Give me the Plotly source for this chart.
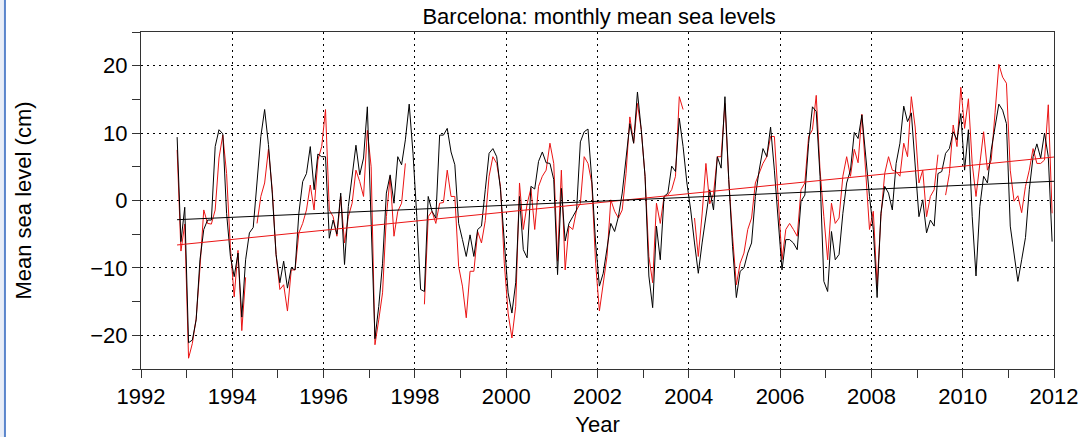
import plotly.graph_objects as go

# Monthly mean sea level at Barcelona (cm), October 1992 - December 2011
start_year = 1992
start_month = 10  # first month in the record

black_levels = [
    9.4, -6.1, -1.0,                                                        # 1992 (Oct-Dec)
    -21.1, -20.7, -17.7, -8.8, -4.3, -2.9, -2.9, 8.0, 10.5, 9.9, -1.9, -8.3,    # 1993
    -11.3, -7.8, -17.3, -8.8, -4.8, -4.0, 3.1, 9.5, 13.5, 8.3, 1.1, -8.0,       # 1994
    -12.2, -9.0, -13.0, -10.0, -10.3, -1.9, 2.8, 4.0, 8.0, 1.6, 6.9, 6.5,       # 1995
    6.5, -5.6, -2.9, -5.0, 1.1, -9.5, -0.9, 4.0, 8.2, 3.8, 6.3, 13.9,           # 1996
    -3.0, -20.5, -15.7, -9.3, 1.1, 3.8, -0.4, 6.5, 5.3, 9.0, 14.3, 7.0,         # 1997
    -2.4, -13.2, -13.5, 0.6, -1.6, -2.6, 9.7, 9.7, 10.7, 7.2, 5.3, -3.4,        # 1998
    -5.8, -8.3, -5.1, -8.3, -4.3, -3.8, 1.6, 7.0, 7.7, 6.5, 1.6, -6.8,          # 1999
    -13.7, -16.7, -12.2, 0.6, -7.3, -8.5, 2.1, 1.7, 5.8, 7.2, 5.6, 5.5,         # 2000
    3.1, -11.0, 1.8, -6.0, -3.4, -2.4, -1.4, 8.7, 10.2, 10.6, 3.1, -6.3,        # 2001
    -12.7, -10.8, -7.3, -3.4, -4.6, -2.4, 1.1, 6.5, 11.4, 8.5, 16.1, 10.5,      # 2002
    3.6, -11.2, -15.9, -3.8, -8.8, 0.6, 1.1, 5.1, 4.3, 12.2, 8.0, 2.6,          # 2003
    -1.4, -6.3, -10.8, -6.3, -2.4, 1.6, -1.4, 6.5, 4.8, 15.4, 3.1, -6.8,        # 2004
    -14.4, -10.5, -10.0, -7.8, -6.3, 0.6, 4.5, 7.7, 6.5, 10.9, 4.5, -2.4,       # 2005
    -10.3, -5.8, -5.8, -6.3, -7.3, -0.1, 0.8, 8.5, 13.9, 13.2, 3.6, -12.0,      # 2006
    -13.5, -4.6, -8.8, -8.0, -1.9, 2.6, 4.5, 10.1, 9.2, 12.7, 6.5, 0.6,         # 2007
    -4.3, -14.4, -1.9, 2.1, 1.1, -1.4, 5.5, 8.5, 14.0, 11.7, 13.0, 4.5,         # 2008
    -2.4, 0.1, -4.8, -2.9, -3.8, 4.0, 4.3, 7.0, 7.7, 10.2, 9.0, 12.9,           # 2009
    4.5, 10.5, -2.4, -11.2, -0.9, 3.6, 2.6, 7.5, 10.9, 14.3, 13.4, 11.4,        # 2010
    -3.8, -7.8, -12.0, -8.8, -5.5, 1.6, 6.5, 8.4, 6.3, 10.0, 6.5, -6.1,         # 2011
]

red_levels = [
    7.5, -7.5, -3.5,                                                        # 1992 (Oct-Dec)
    -23.4, -21.2, -17.5, -10.0, -1.4, -3.4, -3.5, -1.4, 6.3, 9.7, 4.0, -7.0,    # 1993
    -14.3, -7.4, -19.3, -11.4, None, None, -3.4, 0.6, 2.6, 7.6, 1.6, -8.0,      # 1994
    -13.2, -12.5, -16.4, -10.3, -10.3, -4.8, -3.4, -1.4, 2.3, -1.4, 6.0, 8.0,   # 1995
    13.5, -1.4, -2.4, -5.3, 0.6, -6.3, -2.4, -0.4, 4.5, 2.8, 0.6, 10.4,         # 1996
    5.0, -21.4, -17.7, -13.7, -2.4, 3.6, -5.3, -1.6, -0.4, 5.5, None, None,     # 1997
    None, None, -15.4, -2.4, -1.6, -3.4, -0.4, -0.3, 4.5, 0.6, 0.6, -9.8,       # 1998
    -12.7, -17.4, -10.5, -10.5, -4.6, -6.3, -3.0, 3.6, 6.5, 5.5, 2.1, -9.3,     # 1999
    -16.7, -20.4, -15.7, 2.6, -4.3, -0.5, 1.8, -4.3, 2.1, 3.6, 4.5, 8.5,        # 2000
    5.5, -9.0, 4.5, -10.3, -3.8, -4.3, -1.4, -0.4, 6.5, 5.5, 2.6, -9.3,         # 2001
    -16.4, -12.0, -8.3, 0.1, -1.6, -2.6, -1.4, 4.0, 12.4, 8.5, 14.4, 10.5,      # 2002
    3.6, -8.3, -12.2, -0.4, -3.4, 0.6, 0.8, 1.6, 3.6, 15.4, 13.5, None,         # 2003
    None, -2.6, -8.3, -2.0, 5.5, -0.5, 1.0, 6.5, 6.5, 14.4, 3.1, -5.3,          # 2004
    -12.5, -9.3, -7.8, -4.3, -2.6, 2.6, 4.0, 5.5, 6.5, 9.5, 9.5, -0.5,          # 2005
    -8.8, -4.3, -3.4, -4.3, -5.3, 1.6, 2.6, 9.5, 10.5, 15.6, 4.5, -2.4,         # 2006
    -8.8, -0.4, -3.4, -2.6, 3.6, 6.5, 3.6, 7.6, 5.6, 12.8, 4.0, -4.3,           # 2007
    -1.6, -12.7, -2.4, 4.0, 6.5, 4.5, 4.3, 3.6, 8.5, 6.5, 15.4, 10.9,           # 2008
    2.6, 4.5, -2.4, 0.6, 1.6, 6.8, None, 0.8, 4.0, 11.2, 8.0, 16.8,             # 2009
    10.7, 15.1, 5.5, 0.6, 5.0, 10.2, 4.5, 6.0, 13.0, 20.2, 18.3, 17.4,          # 2010
    4.5, -0.1, 0.7, -1.8, 2.1, 4.5, 7.7, 5.5, 5.5, 6.0, 14.2, -1.9,             # 2011
]

# Linear trends (end points, cm)
trend_years = [1992.79, 2012.0]
black_trend = [-2.85, 2.85]
red_trend = [-6.6, 6.45]

# Decimal-year time stamp at mid-month
years = [start_year + (start_month - 1 + i + 0.5) / 12 for i in range(len(black_levels))]

RED = "rgb(235,20,20)"
FONT = "Liberation Sans, Arial, Helvetica, sans-serif"

fig = go.Figure()
fig.add_trace(go.Scatter(x=years, y=red_levels, mode="lines",
                         line=dict(color=RED, width=1), connectgaps=False,
                         showlegend=False))
fig.add_trace(go.Scatter(x=years, y=black_levels, mode="lines",
                         line=dict(color="black", width=1), connectgaps=False,
                         showlegend=False))
fig.add_trace(go.Scatter(x=trend_years, y=red_trend, mode="lines",
                         line=dict(color=RED, width=1), showlegend=False))
fig.add_trace(go.Scatter(x=trend_years, y=black_trend, mode="lines",
                         line=dict(color="black", width=1), showlegend=False))

axis_common = dict(
    showline=True, linecolor="#333333", linewidth=1, mirror=True,
    ticks="outside", ticklen=8, tickwidth=1, tickcolor="#333333",
    showgrid=True, gridcolor="black", gridwidth=1, griddash="2px,4px",
    zeroline=False, automargin=False,
    tickfont=dict(size=22, color="black", family=FONT),
)

fig.update_xaxes(
    range=[1992, 2012], tick0=1992, dtick=2,
    minor=dict(dtick=1, ticks="outside", ticklen=8, tickcolor="#333333", showgrid=False),
    title=dict(text="Year", font=dict(size=22, color="black", family=FONT), standoff=10),
    **axis_common,
)
fig.update_yaxes(
    range=[-25, 25], tick0=0, dtick=10, tickformat="d",
    minor=dict(dtick=5, ticks="outside", ticklen=8, tickcolor="#333333", showgrid=False),
    title=dict(text="Mean sea level (cm)", font=dict(size=22, color="black", family=FONT), standoff=52),
    **axis_common,
)

fig.update_layout(
    width=1085, height=437,
    margin=dict(l=141, r=31, t=32, b=68, autoexpand=False),
    paper_bgcolor="white", plot_bgcolor="white",
    title=dict(text="Barcelona: monthly mean sea levels", x=0.5522, xanchor="center",
               y=0.963, yanchor="middle",
               font=dict(size=22, color="black", family=FONT)),
    font=dict(family=FONT, color="black"),
    shapes=[
        # window edge strip at the far left
        dict(type="rect", xref="paper", yref="paper", x0=-0.1545, x1=-0.1490,
             y0=-0.21, y1=1.1, fillcolor="#e9eef8", line=dict(width=0), layer="below"),
        dict(type="line", xref="paper", yref="paper", x0=-0.1490, x1=-0.1490,
             y0=-0.21, y1=1.1, line=dict(color="#5b86cc", width=2)),
    ],
)

fig.write_html("out.html")
